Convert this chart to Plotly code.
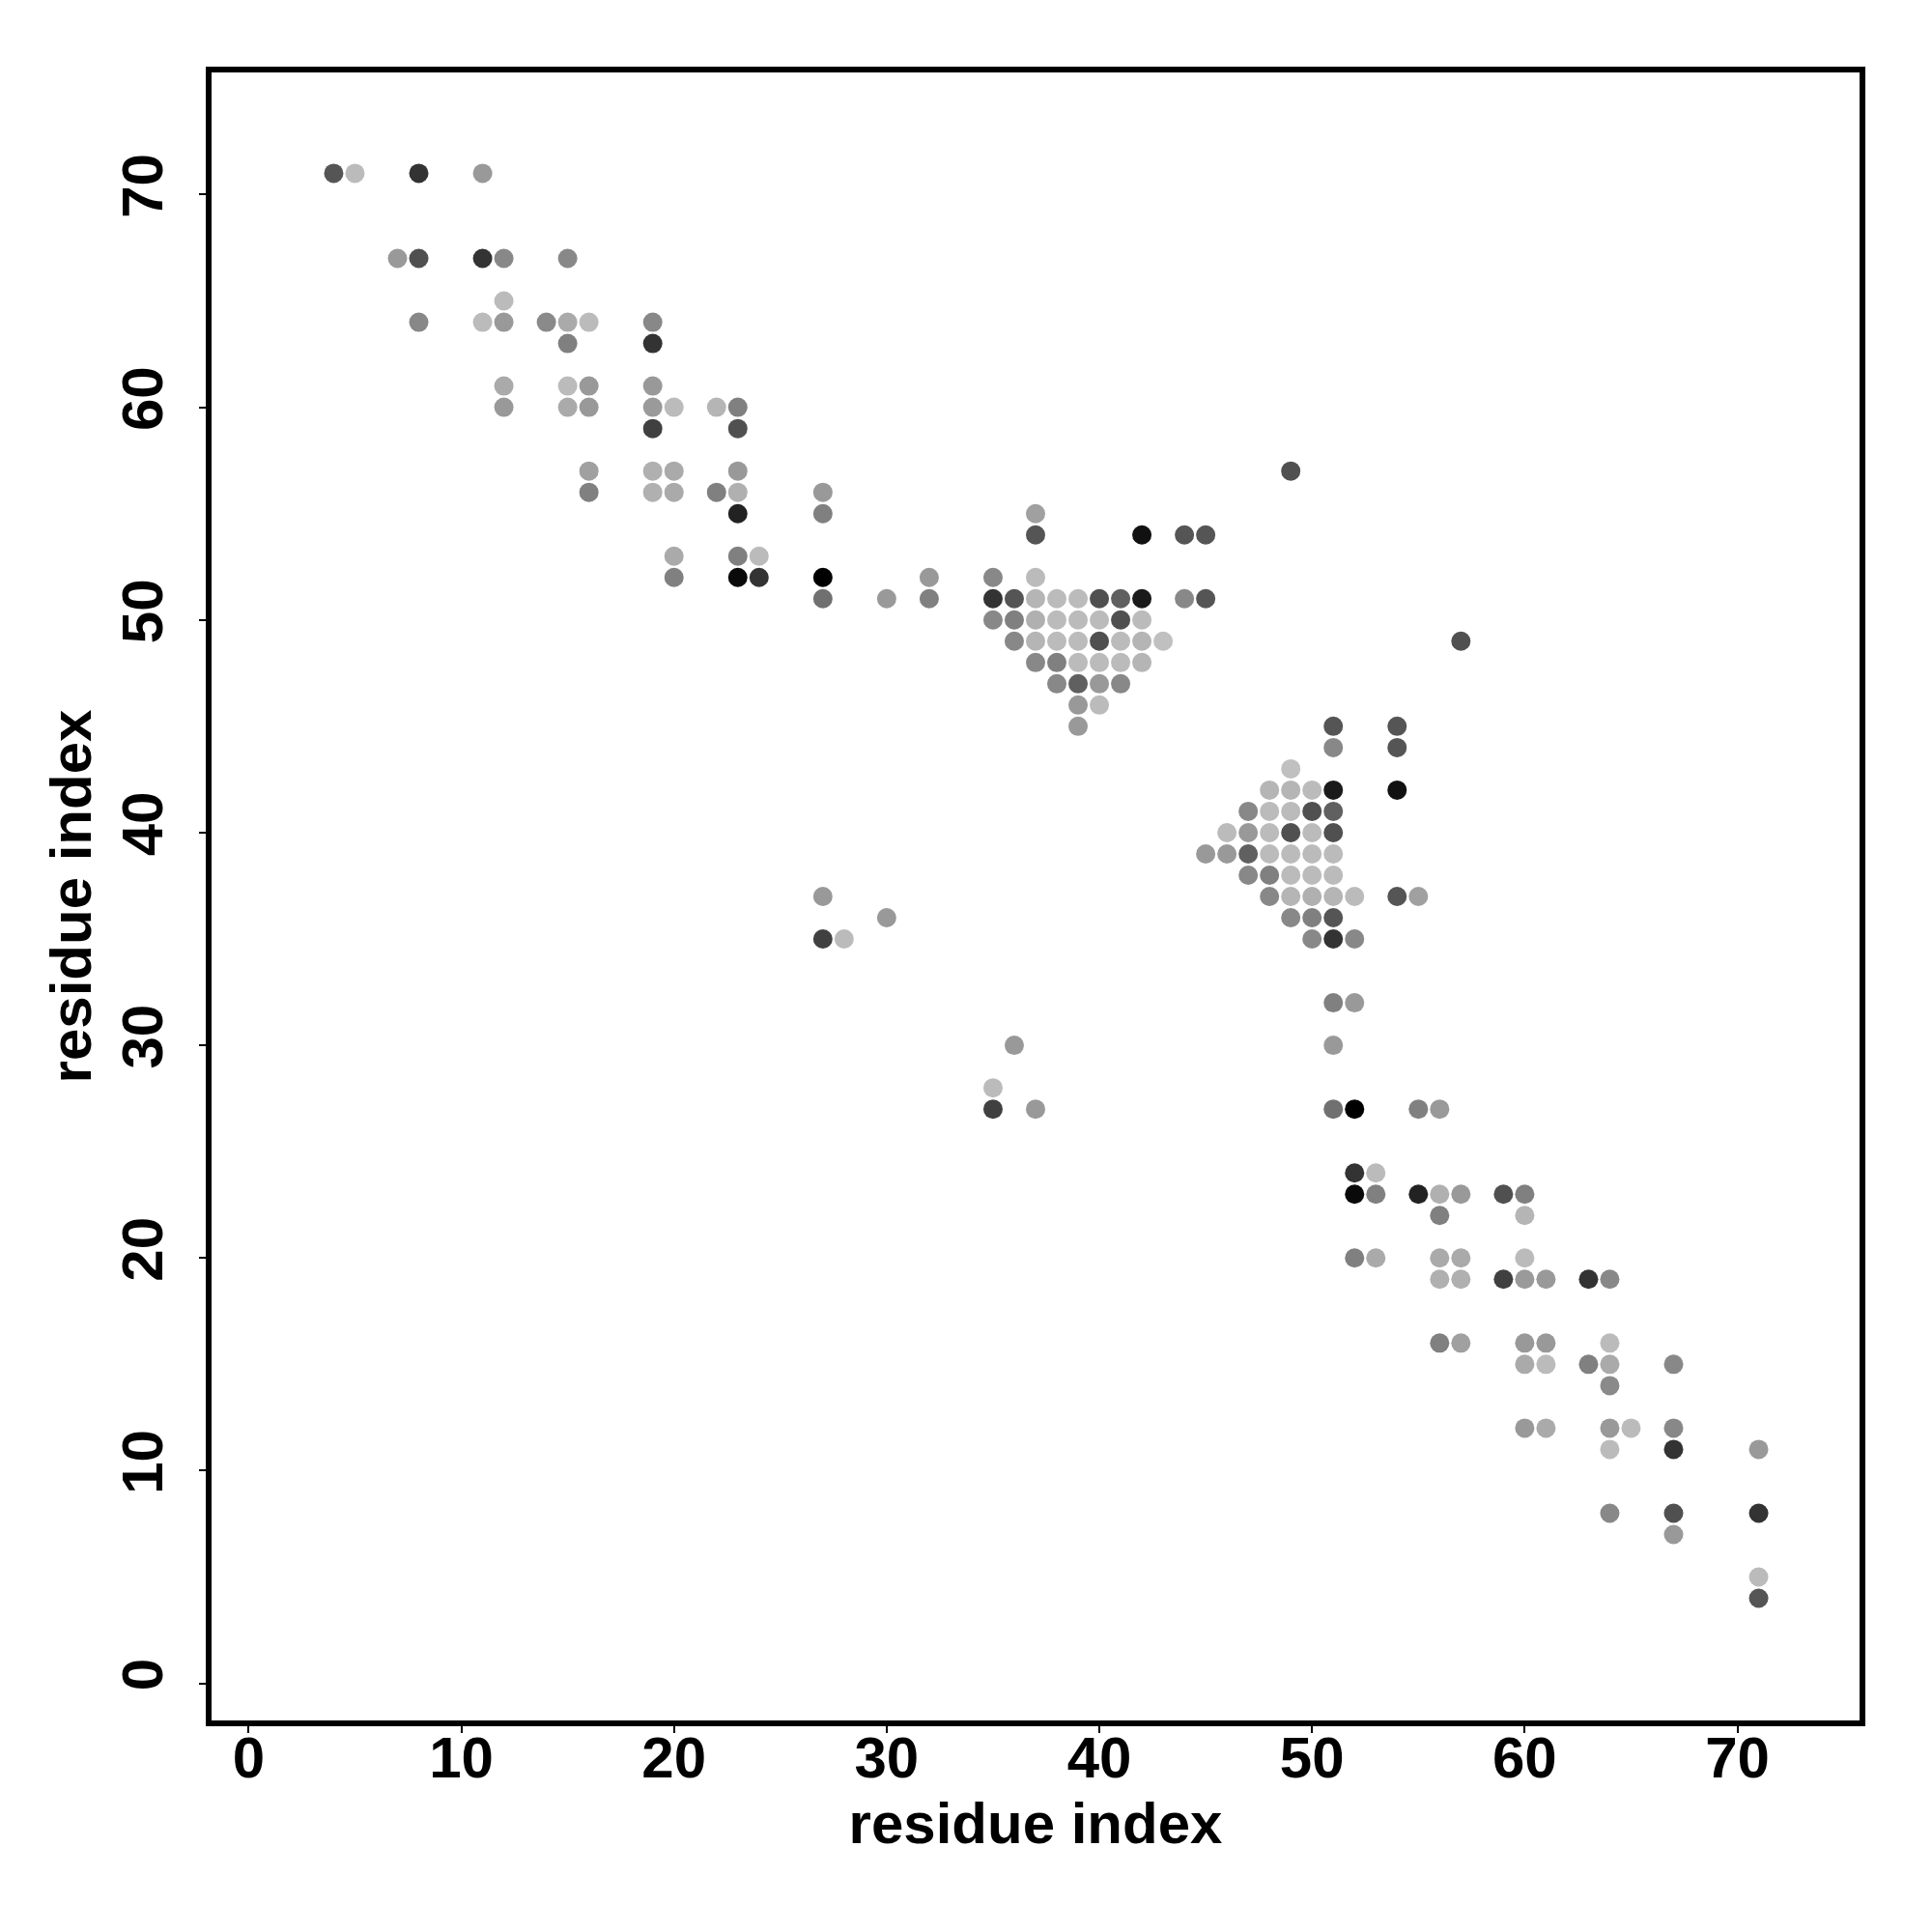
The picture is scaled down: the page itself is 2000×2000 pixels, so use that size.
import plotly.graph_objects as go

# Contact pairs (res_i < res_j) read from the upper triangle; the map is symmetric
res_i = [4, 5, 8, 11,
         7, 8, 11, 12, 15,
         12,
         8, 11, 12, 14, 15, 16, 19,
         15, 19,
         12, 15, 16, 19,
         12, 15, 16, 19, 20, 22, 23,
         19, 23,
         16, 19, 20, 23, 49,
         16, 19, 20, 22, 23, 27,
         23, 27, 37,
         37, 42, 44, 45,
         20, 23, 24,
         20, 23, 24, 27, 32, 35, 37,
         27, 30, 32, 35, 36, 37, 38, 39, 40, 41, 42, 44, 45,
         35, 36, 37, 38, 39, 40, 41, 42,
         36, 37, 38, 39, 40, 41, 42, 43,
         37, 38, 39, 40, 41, 42,
         38, 39, 40, 41,
         39, 40,
         39,
         27,
         30,
         27, 28]
res_j = [71, 71, 71, 71,
         67, 67, 67, 67, 67,
         65,
         64, 64, 64, 64, 64, 64, 64,
         63, 63,
         61, 61, 61, 61,
         60, 60, 60, 60, 60, 60, 60,
         59, 59,
         57, 57, 57, 57, 57,
         56, 56, 56, 56, 56, 56,
         55, 55, 55,
         54, 54, 54, 54,
         53, 53, 53,
         52, 52, 52, 52, 52, 52, 52,
         51, 51, 51, 51, 51, 51, 51, 51, 51, 51, 51, 51, 51,
         50, 50, 50, 50, 50, 50, 50, 50,
         49, 49, 49, 49, 49, 49, 49, 49,
         48, 48, 48, 48, 48, 48,
         47, 47, 47, 47,
         46, 46,
         45,
         37,
         36,
         35, 35]
gray = [85, 187, 51, 153,
        153, 80, 51, 136, 136,
        187,
        136, 187, 153, 138, 170, 187, 136,
        128, 51,
        170, 187, 153, 153,
        153, 170, 153, 154, 187, 181, 128,
        64, 80,
        160, 176, 170, 153, 80,
        128, 176, 170, 128, 176, 153,
        34, 128, 160,
        85, 17, 85, 85,
        170, 128, 187,
        128, 10, 51, 0, 153, 136, 187,
        112, 153, 128, 51, 85, 181, 187, 187, 80, 96, 26, 136, 85,
        136, 128, 176, 187, 187, 187, 80, 187,
        136, 181, 187, 187, 80, 187, 181, 192,
        136, 128, 187, 187, 187, 181,
        136, 96, 153, 136,
        153, 187,
        153,
        153,
        153,
        64, 187]

tick_vals = [0, 10, 20, 30, 40, 50, 60, 70]
axis_title = "residue index"

xs = res_i + res_j
ys = res_j + res_i
cols = ["rgb(%d,%d,%d)" % (g, g, g) for g in gray + gray]

fig = go.Figure()
fig.add_trace(go.Scatter(
    x=xs, y=ys, mode="markers",
    marker=dict(size=20, color=cols, line=dict(width=0)),
    showlegend=False, hoverinfo="x+y"))

font = dict(family="Liberation Sans, Arial, Helvetica, sans-serif", size=60, color="black", weight="bold")

axis_common = dict(
    range=[-1.88, 75.88], tickmode="array", tickvals=tick_vals,
    ticks="outside", ticklen=9, tickwidth=2, tickcolor="black",
    showline=False,
    showgrid=False, zeroline=False, tickfont=font,
    title=dict(text=axis_title, font=font),
)

fig.update_layout(
    width=2000, height=2000,
    margin=dict(l=208, r=80, t=64, b=224),
    paper_bgcolor="white", plot_bgcolor="white",
    xaxis=dict(**axis_common, ticklabelstandoff=-26),
    yaxis=dict(**axis_common, tickangle=-90, ticklabelstandoff=14),
    shapes=[dict(type="rect", xref="paper", yref="paper", x0=0, x1=1, y0=0, y1=1,
                 line=dict(color="black", width=6), fillcolor="rgba(0,0,0,0)", layer="above")],
)
fig.update_xaxes(title_standoff=13)
fig.update_yaxes(title_standoff=0)

fig.write_html("out.html")
